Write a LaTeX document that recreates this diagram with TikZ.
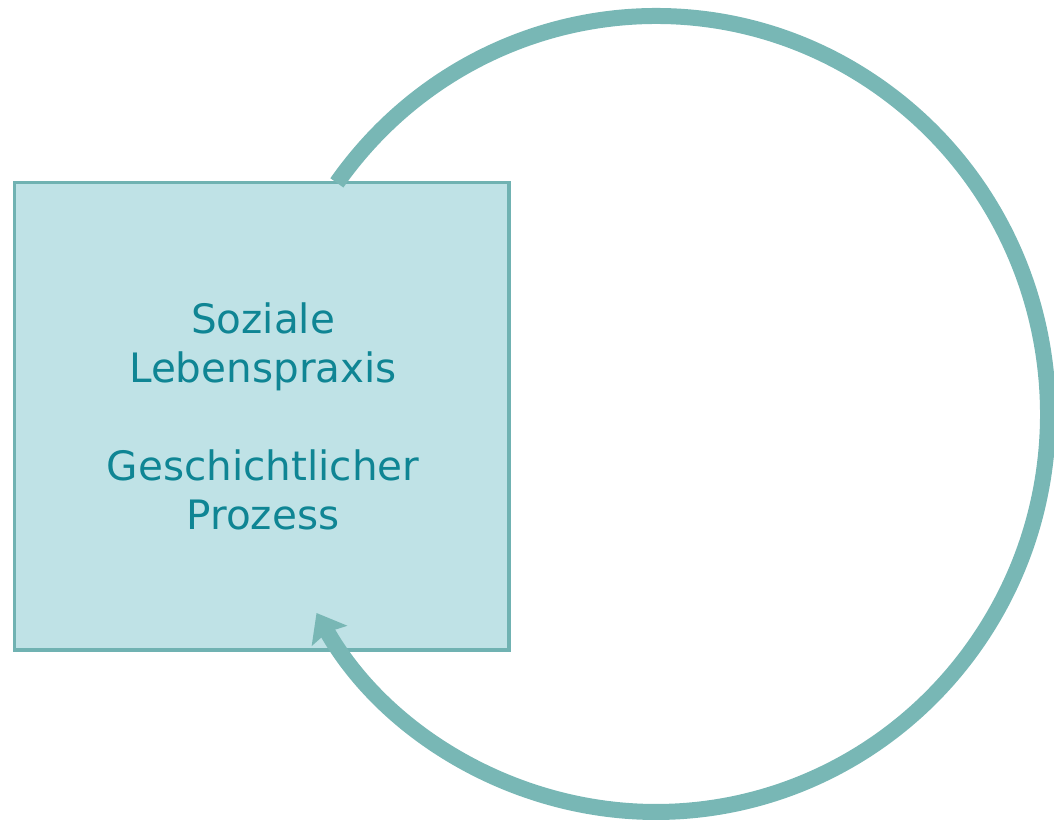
\documentclass[tikz,border=0pt]{standalone}
\usepackage{fontspec}
\setmainfont{DejaVu Sans}
\usetikzlibrary{arrows.meta}
\definecolor{boxfill}{HTML}{BFE2E6}
\definecolor{boxline}{HTML}{70B2B2}
\definecolor{ringcol}{HTML}{78B7B5}
\definecolor{textcol}{HTML}{0F8594}
\tikzset{
  mainbox/.style={draw=boxline, fill=boxfill, line width=3.5pt},
  ring/.style={draw=ringcol, line width=16pt, -{Stealth[width=40pt,length=26pt,inset=4pt]}},
  label/.style={text=textcol, align=center, font=\fontsize{40.5}{49}\selectfont}
}
\begin{document}
\begin{tikzpicture}[x=1pt,y=1pt]
\useasboundingbox (0,0) rectangle (1054,821);
\coordinate (c) at (656,407);
\draw[mainbox] (14.7,171) rectangle (509,638.3);
\node[label] (txt) at (263,405) {Soziale\\Lebenspraxis\\[49pt]Geschichtlicher\\Prozess};
\draw[ring] (c) ++(144.5:392 and 398) arc[start angle=144.5, end angle=-150, x radius=392, y radius=398];
\end{tikzpicture}
\end{document}
